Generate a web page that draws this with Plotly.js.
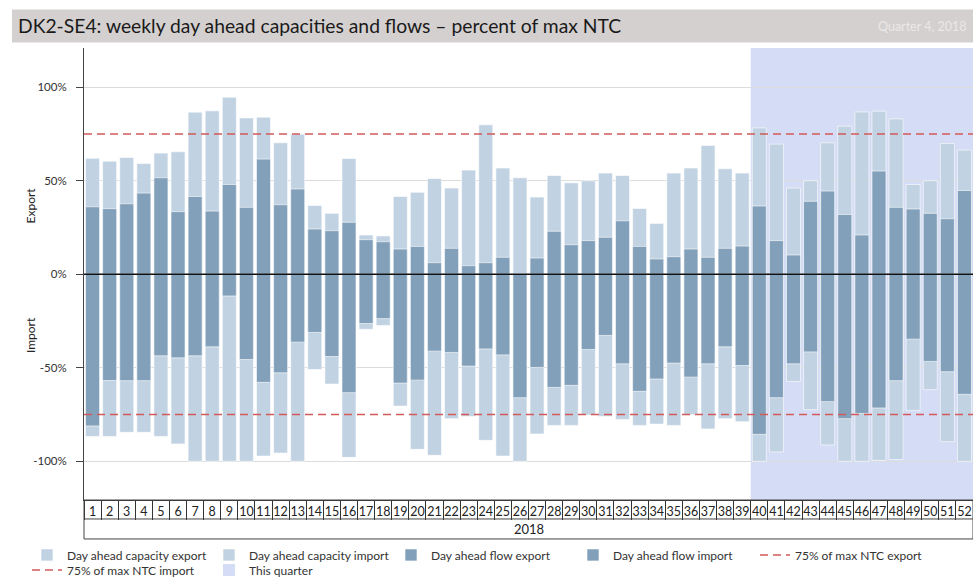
<!DOCTYPE html>
<html>
<head>
<meta charset="utf-8">
<script src="https://cdn.plot.ly/plotly-3.0.1.min.js"></script>
<style>html,body{margin:0;padding:0;background:#fff;}#chart{width:973px;height:577px;}</style>
</head>
<body>
<div id="chart"></div>
<script>
const weeks = [1,2,3,4,5,6,7,8,9,10,11,12,13,14,15,16,17,18,19,20,21,22,23,24,25,26,27,28,29,30,31,32,33,34,35,36,37,38,39,40,41,42,43,44,45,46,47,48,49,50,51,52];
const weekLabels = weeks.map(String);
const yearLabel = "2018";
const capExport = [62,60.5,62.5,59.3,64.8,65.5,86.7,87.4,94.7,83.6,84,70.3,74.9,36.8,32.6,61.9,21,20.5,41.6,43.8,51.2,46.1,55.7,79.9,56.8,51.6,41.3,52.8,48.9,50,54.1,52.8,35.2,27.2,54.1,56.8,68.9,56.4,54.1,78.3,69.6,46.1,50,70.3,79.2,86.8,87.2,83.1,48,50,69.9,66.4];
const capImport = [-86.7,-86.7,-84.5,-84.5,-86.7,-90.7,-100,-100,-100,-100,-97.2,-95.6,-100,-50.9,-58.7,-97.9,-29.4,-27.4,-70.5,-93.6,-96.8,-77.2,-76,-88.8,-97.2,-100,-85.4,-80.8,-80.8,-75.3,-76,-77.6,-80.8,-80.1,-80.8,-75.1,-82.7,-77.2,-78.8,-100,-95,-57.3,-72.4,-91.3,-100,-100,-99.5,-99.1,-72.8,-61.7,-89.5,-100];
const flowExport = [36.1,35.1,37.7,43.4,51.6,33.5,41.6,33.8,48,35.8,61.6,37.2,45.6,24.2,23.3,27.8,18.5,17.4,13.5,14.9,6.2,13.9,4.6,6.2,9.1,0,8.7,23,15.8,18,19.8,28.6,14.9,8.2,9.4,13.5,9.1,13.9,15.1,36.5,18,10.3,39,44.5,32,21,55.2,35.8,34.9,32.6,29.7,44.8];
const flowImport = [-81.1,-56.8,-56.9,-56.9,-43.6,-44.7,-43.6,-38.8,-11.6,-45.6,-57.8,-52.7,-36.3,-31.1,-44,-63.3,-26.3,-23.7,-58.2,-56.6,-41.1,-41.8,-49.1,-39.9,-43.1,-66,-49.8,-60.5,-59.4,-40.2,-32.7,-47.9,-62.6,-56,-47.5,-55,-47.9,-38.8,-48.8,-85.6,-66,-47.9,-41.5,-68.1,-77.2,-74.4,-71.5,-56.9,-34.7,-46.6,-52.1,-64.2];
const ntcExport = 75;
const ntcImport = -75;
const quarterStartWeek = 40;
const yTicks = [-100,-50,0,50,100];

const lightBlue = '#c1d2e2';
const darkBlue = '#82a0ba';
const FONT = 'Lato, "Open Sans", "DejaVu Sans", sans-serif';
const xmin = weeks[0] - 0.5, xmax = weeks[weeks.length-1] + 0.5;

function barTrace(name, y, color, rank, legend) {
  return {type:'bar', name:name, x:weeks, y:y, width:0.82,
    marker:{color:color, line:{color:'rgba(255,255,255,0.6)', width:1}},
    legendrank:rank, legend:legend, hoverinfo:'skip'};
}
const traces = [
  barTrace('Day ahead capacity export', capExport, lightBlue, 1, 'legend'),
  barTrace('Day ahead capacity import', capImport, lightBlue, 2, 'legend'),
  barTrace('Day ahead flow export', flowExport, darkBlue, 3, 'legend'),
  barTrace('Day ahead flow import', flowImport, darkBlue, 4, 'legend'),
  {type:'scatter', mode:'lines', name:'75% of max NTC export', x:[xmin,xmax], y:[ntcExport,ntcExport],
   line:{color:'#d25a5a', width:1.5, dash:'8px,5px'}, legendrank:5, legend:'legend', hoverinfo:'skip', cliponaxis:false},
  {type:'scatter', mode:'lines', name:'75% of max NTC import', x:[xmin,xmax], y:[ntcImport,ntcImport],
   line:{color:'#d25a5a', width:1.5, dash:'8px,5px'}, legendrank:6, legend:'legend2', hoverinfo:'skip', cliponaxis:false},
  {type:'bar', name:'This quarter', x:[null], y:[null], marker:{color:'#d5dcf5'}, legendrank:7, legend:'legend2', hoverinfo:'skip'}
];

const plotL = 84, plotT = 47.5, plotB = 500, W = 973, H = 577;
const plotH = plotB - plotT, plotW = W - plotL;
const py = (px) => (plotB - px) / plotH;   // pixel y -> paper y
const pxx = (px) => (px - plotL) / plotW;  // pixel x -> paper x

const layout = {
  width: W, height: H,
  margin: {l: plotL, r: 0, t: plotT, b: H - plotB, autoexpand: false},
  paper_bgcolor: '#ffffff', plot_bgcolor: '#ffffff',
  font: {family: FONT, size: 12, color: '#333'},
  barmode: 'overlay',
  bargap: 0,
  showlegend: true,
  title: {text: 'DK2-SE4: weekly day ahead capacities and flows \u2013 percent of max NTC',
    font: {family: FONT, size: 19.3, color: '#1a1a1a'},
    xref: 'container', yref: 'container', x: 18 / W, xanchor: 'left', y: 1 - 26 / H, yanchor: 'middle'},
  xaxis: {
    type: 'linear', range: [xmin, xmax], fixedrange: true,
    tickmode: 'array', tickvals: weeks, ticktext: weekLabels,
    ticks: '', tickangle: 0, showgrid: false, zeroline: false,
    showline: true, linecolor: '#333', linewidth: 1,
    tickfont: {size: 12.5, color: '#222'},
    minor: {tickmode: 'linear', tick0: xmin, dtick: 1, ticks: 'outside', ticklen: 19, tickcolor: '#333', tickwidth: 1, showgrid: false}
  },
  yaxis: {
    range: [-120.7, 121], fixedrange: true,
    tickmode: 'array', tickvals: yTicks, ticktext: yTicks.map(v => v + '%'),
    ticks: 'outside', ticklen: 7, tickcolor: '#444', tickwidth: 1,
    ticklabelstandoff: 7,
    tickfont: {size: 11.5, color: '#333'},
    showgrid: true, gridcolor: '#dcdcdc', gridwidth: 1,
    zeroline: false,
    showline: true, linecolor: '#444', linewidth: 1
  },
  legend: {orientation: 'h', x: pxx(27), xanchor: 'left', y: py(555), yanchor: 'middle',
    entrywidth: 137, entrywidthmode: 'pixels', traceorder: 'normal', font: {size: 12, color: '#333'}, bgcolor: 'rgba(0,0,0,0)'},
  legend2: {orientation: 'h', x: pxx(27), xanchor: 'left', y: py(570), yanchor: 'middle',
    entrywidth: 137, entrywidthmode: 'pixels', traceorder: 'normal', font: {size: 12, color: '#333'}, bgcolor: 'rgba(0,0,0,0)'},
  shapes: [
    {type: 'rect', xref: 'paper', yref: 'paper', x0: pxx(12), x1: pxx(973), y0: py(42), y1: py(9),
     fillcolor: '#d4d0cf', line: {width: 0}, layer: 'below'},
    {type: 'rect', xref: 'x', yref: 'paper', x0: quarterStartWeek - 0.5, x1: xmax, y0: 0, y1: 1,
     fillcolor: '#d5dcf5', line: {width: 0}, layer: 'below'},
    {type: 'line', xref: 'paper', yref: 'y', x0: 0, x1: 1, y0: 0, y1: 0, line: {color: '#111', width: 1.5}, layer: 'above'},
    {type: 'rect', xref: 'paper', yref: 'paper', x0: 0, x1: 1, y0: py(539), y1: 0, line: {color: '#444', width: 1}, fillcolor: 'rgba(0,0,0,0)'},
    {type: 'line', xref: 'paper', yref: 'paper', x0: 0, x1: 1, y0: py(519), y1: py(519), line: {color: '#444', width: 1}}
  ],
  annotations: [
    {text: 'Quarter 4, 2018', xref: 'paper', yref: 'paper', x: pxx(968), y: py(26), xanchor: 'right', yanchor: 'middle',
     showarrow: false, font: {size: 12.5, color: '#ebe8e8'}},
    {text: 'Export', xref: 'paper', yref: 'y', x: pxx(30), y: 36.8, textangle: -90, showarrow: false,
     xanchor: 'center', yanchor: 'middle', font: {size: 12, color: '#222'}},
    {text: 'Import', xref: 'paper', yref: 'y', x: pxx(30), y: -32.5, textangle: -90, showarrow: false,
     xanchor: 'center', yanchor: 'middle', font: {size: 12, color: '#222'}},
    {text: yearLabel, xref: 'paper', yref: 'paper', x: 0.5, y: py(529), xanchor: 'center', yanchor: 'middle',
     showarrow: false, font: {size: 13, color: '#222'}}
  ]
};

Plotly.newPlot('chart', traces, layout, {displayModeBar: false, staticPlot: true});
</script>
</body>
</html>
